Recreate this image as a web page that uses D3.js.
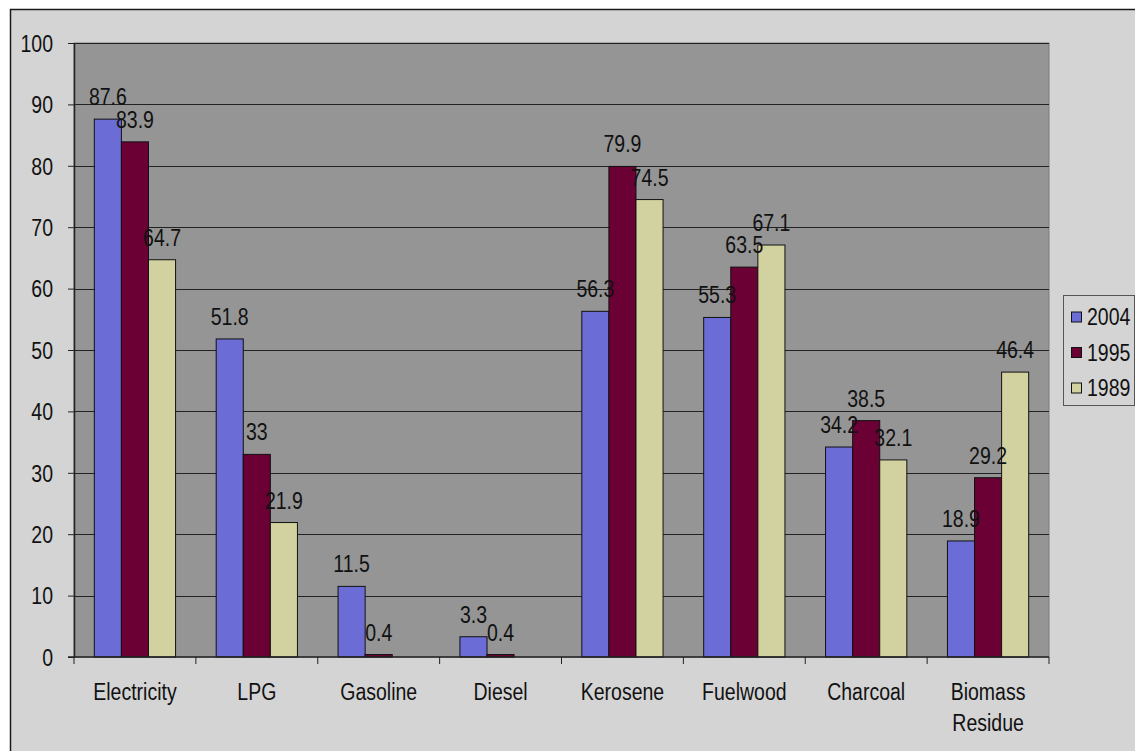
<!DOCTYPE html>
<html>
<head>
  <meta charset="utf-8">
  <title>Fuel use by year</title>
  <script src="https://d3js.org/d3.v7.min.js"></script>
  <style>
    body { margin: 0; background: #fff; }
    text { font-family: "Liberation Sans", Arial, sans-serif; fill: #111; }
  </style>
</head>
<body>
  <svg id="chart"></svg>
  <script>
    // values
    var categories = ["Electricity", "LPG", "Gasoline", "Diesel", "Kerosene", "Fuelwood", "Charcoal", "Biomass Residue"];
    var series = ["2004", "1995", "1989"];
    var v2004 = [87.6, 51.8, 11.5, 3.3, 56.3, 55.3, 34.2, 18.9];
    var v1995 = [83.9, 33, 0.4, 0.4, 79.9, 63.5, 38.5, 29.2];
    var v1989 = [64.7, 21.9, null, null, 74.5, 67.1, 32.1, 46.4];
    var yTicks = [0, 10, 20, 30, 40, 50, 60, 70, 80, 90, 100];
    var colors = ["#6c6cd6", "#6b0035", "#d2d2a0"];

    var values = [v2004, v1995, v1989];
    var W = 1135, H = 751;
    var plot = {left: 74, right: 1049, top: 43, bottom: 657};
    var fs = 19.5, sy = 1.18;   // text looks a bit stretched vertically

    var svg = d3.select("#chart").attr("width", W).attr("height", H);

    // chart area
    svg.append("rect")
      .attr("x", 10.5).attr("y", 9.5)
      .attr("width", W).attr("height", H)
      .attr("fill", "#d4d4d4")
      .attr("stroke", "#1a1a1a").attr("stroke-width", 1.5);

    var x = d3.scaleBand().domain(categories).range([plot.left, plot.right]);
    var xs = d3.scaleBand().domain(series).range([0, x.bandwidth()]).paddingOuter(0.75);
    var y = d3.scaleLinear().domain([0, 100]).range([plot.bottom, plot.top]);

    function label(g, tx, ty, str, anchor) {
      return g.append("text")
        .attr("transform", "translate(" + tx + "," + ty + ") scale(1," + sy + ")")
        .attr("text-anchor", anchor || "middle")
        .style("font-size", fs + "px")
        .text(str);
    }

    // plot area
    svg.append("rect")
      .attr("x", plot.left).attr("y", plot.top)
      .attr("width", plot.right - plot.left).attr("height", plot.bottom - plot.top)
      .attr("fill", "#959595")
      .attr("stroke", "#7a7a7a");

    // gridlines
    svg.append("g").selectAll("line")
      .data(yTicks.filter(d => d > 0))
      .enter().append("line")
      .attr("x1", plot.left).attr("x2", plot.right)
      .attr("y1", d => Math.round(y(d)) + 0.5).attr("y2", d => Math.round(y(d)) + 0.5)
      .attr("stroke", "#222").attr("stroke-width", 1);

    // bars
    var rows = [];
    categories.forEach(function(c, i) {
      series.forEach(function(s, j) {
        if (values[j][i] != null) rows.push({cat: c, ser: s, val: values[j][i], k: j});
      });
    });

    svg.append("g").selectAll("rect")
      .data(rows)
      .enter().append("rect")
      .attr("x", d => x(d.cat) + xs(d.ser))
      .attr("y", d => y(d.val))
      .attr("width", xs.bandwidth())
      .attr("height", d => y(0) - y(d.val))
      .attr("fill", d => colors[d.k])
      .attr("stroke", "#111").attr("stroke-width", 1);

    // data labels
    var lab = svg.append("g");
    rows.forEach(function(d) {
      label(lab, x(d.cat) + xs(d.ser) + xs.bandwidth() / 2, y(d.val) - 14, d.val);
    });

    // y axis
    var yAxis = svg.append("g")
      .attr("transform", "translate(" + plot.left + ",0)")
      .call(d3.axisLeft(y).tickValues(yTicks).tickSize(6).tickSizeOuter(0).tickPadding(15));
    yAxis.select(".domain").attr("stroke", "#222").attr("stroke-width", 1.5);
    yAxis.selectAll(".tick line").attr("stroke", "#222");
    yAxis.selectAll(".tick text")
      .style("font-size", fs + "px")
      .attr("fill", "#111")
      .attr("dy", "0.36em")
      .attr("transform", "scale(1," + sy + ")");

    // x axis line and ticks at band edges
    var xa = svg.append("g");
    xa.append("line")
      .attr("x1", plot.left - 6).attr("x2", plot.right)
      .attr("y1", plot.bottom).attr("y2", plot.bottom)
      .attr("stroke", "#222").attr("stroke-width", 1.5);
    var edges = categories.map(c => x(c)).concat([plot.right]);
    xa.selectAll(".xt")
      .data(edges)
      .enter().append("line")
      .attr("class", "xt")
      .attr("x1", d => d).attr("x2", d => d)
      .attr("y1", plot.bottom).attr("y2", plot.bottom + 7)
      .attr("stroke", "#222");

    categories.forEach(function(c) {
      var parts = c === "Biomass Residue" ? ["Biomass", "Residue"] : [c];
      parts.forEach(function(p, i) {
        label(xa, x(c) + x.bandwidth() / 2, 700 + i * 31, p);
      });
    });

    // legend
    var lg = svg.append("g");
    lg.append("rect")
      .attr("x", 1063.5).attr("y", 295.5)
      .attr("width", 71).attr("height", 110)
      .attr("fill", "#d4d4d4")
      .attr("stroke", "#555");
    series.forEach(function(s, i) {
      var cy = 317 + i * 35.5;
      lg.append("rect")
        .attr("x", 1071.5).attr("y", cy - 5)
        .attr("width", 10).attr("height", 10)
        .attr("fill", colors[i])
        .attr("stroke", "#111");
      label(lg, 1087, cy + 8, s, "start");
    });
  </script>
</body>
</html>
